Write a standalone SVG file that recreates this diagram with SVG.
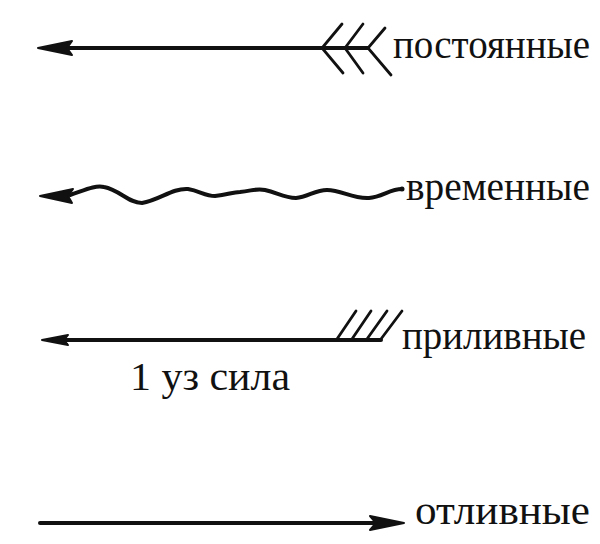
<svg xmlns="http://www.w3.org/2000/svg" width="600" height="544" viewBox="0 0 600 544">
<style>
.ln{stroke:#111;stroke-width:4;fill:none;stroke-linecap:round;stroke-linejoin:round}
.th{stroke:#111;stroke-width:2.8;fill:none;stroke-linecap:round}
.hd{fill:#111;stroke:#111;stroke-width:2;stroke-linejoin:round}
.tx{font-family:"Liberation Serif","DejaVu Serif",serif;font-size:40px;fill:#111}
</style>
<rect width="600" height="544" fill="#fff"/>
<g id="connectors">
<g id="postoyannye-arrow">
<line class="ln" x1="60" y1="48" x2="368" y2="48"/>
<path class="hd" d="M38,48 L72,41 L67,48 L72,55 Z"/>
<path class="th" d="M342,24 L322,48 L343,73 M363,24 L345,48 L363,73 M385,28 L368,48 L391,75"/>
</g>
<g id="vremennye-arrow">
<path class="ln" d="M70,195 C85,190 95,185 104,187 C120,190 128,203 142,203 C160,200 172,188 188,189 C200,191 205,196 215,196 C228,195 232,192 240,192 C252,191 256,188 265,190 C278,193 284,198 296,198 C308,197 315,190 327,190 C342,190 352,199 369,198 C382,197 390,189 402,189"/>
<path class="hd" d="M40,196 L73,189 L68,196 L72,203 Z"/>
<circle cx="402" cy="189" r="2.5" fill="#111"/>
</g>
<g id="prilivnye-arrow">
<line class="ln" x1="56" y1="340" x2="381" y2="340"/>
<path class="hd" d="M42,340 L68,335 L64,340 L68,345 Z"/>
<path class="th" d="M337,339 L356,311 M352,339 L371,311 M367,339 L387,311 M381,339 L402,311"/>
</g>
<g id="otlivnye-arrow">
<line class="ln" x1="40" y1="523" x2="380" y2="523"/>
<path class="hd" d="M404,523 L370,516 L376,523 L370,530 Z"/>
</g>
</g>
<g id="label-postoyannye"><text class="tx" x="393" y="58" textLength="197" lengthAdjust="spacingAndGlyphs">постоянные</text></g>
<g id="label-vremennye"><text class="tx" x="406" y="200" textLength="184" lengthAdjust="spacingAndGlyphs">временные</text></g>
<g id="label-prilivnye"><text class="tx" x="402" y="349" textLength="184" lengthAdjust="spacingAndGlyphs">приливные</text></g>
<g id="label-sila"><text class="tx" x="130" y="390" textLength="160" lengthAdjust="spacingAndGlyphs">1 уз сила</text></g>
<g id="label-otlivnye"><text class="tx" x="415" y="524" textLength="175" lengthAdjust="spacingAndGlyphs">отливные</text></g>
</svg>
